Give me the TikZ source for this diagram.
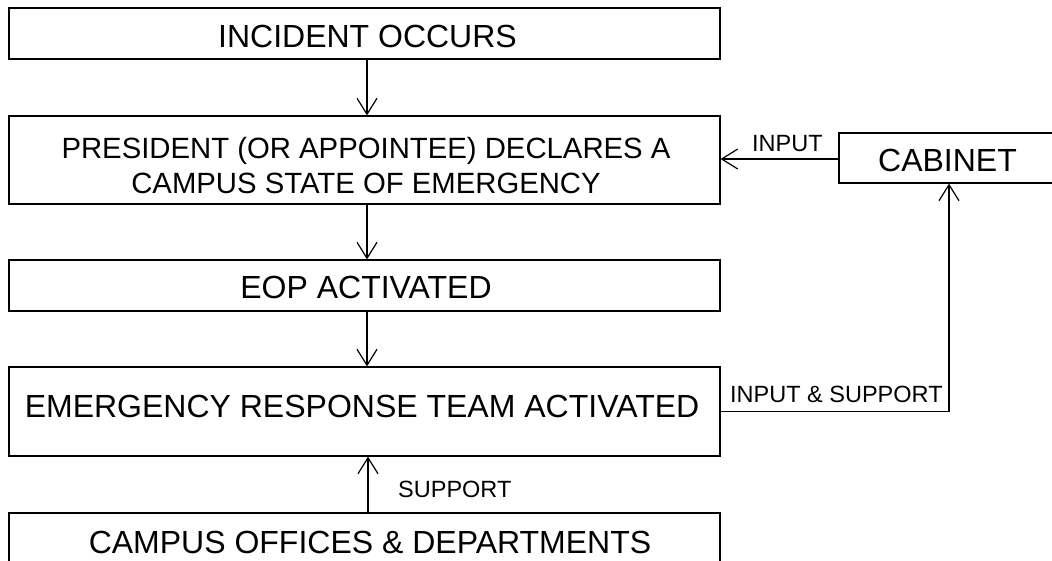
\documentclass[tikz,border=0pt]{standalone}
\usepackage{fontspec}
\setmainfont{Liberation Sans}
\usetikzlibrary{arrows.meta}
\begin{document}
\begin{tikzpicture}[x=1pt,y=-1pt,
  box/.style={draw, line width=1.2pt, rectangle, inner sep=0pt},
  big/.style={font=\fontsize{32}{38}\selectfont, inner sep=0pt, anchor=base},
  mid/.style={font=\fontsize{29.3}{35}\selectfont, inner sep=0pt, anchor=base, align=center},
  lbl/.style={font=\fontsize{23.5}{28}\selectfont, inner sep=0pt, anchor=base west},
  arr/.style={line width=1.2pt, -{Straight Barb[length=16pt,width=20pt,line width=1.2pt]}},
  conn/.style={line width=1.2pt}]
\useasboundingbox (0,0) rectangle (1052,561);
\clip (0,0) rectangle (1052,561);
% boxes
\node[box, minimum width=711pt, minimum height=51pt] (b1) at (364.5,33.5) {};
\node[box, minimum width=711pt, minimum height=88pt] (b2) at (364.5,160) {};
\node[box, minimum width=711pt, minimum height=51pt] (b3) at (364.5,285.5) {};
\node[box, minimum width=711pt, minimum height=89pt] (b4) at (364.5,411.5) {};
\node[box, minimum width=711pt, minimum height=87pt] (b5) at (364.5,556.5) {};
\node[box, minimum width=217pt, minimum height=50pt] (cab) at (947.5,158) {};
% texts
\node[big] (t1) at (367.5,48) {INCIDENT OCCURS};
\node[mid] (t2) at (366,194) {PRESIDENT (OR APPOINTEE) DECLARES A\\CAMPUS STATE OF EMERGENCY};
\node[big] (t3) at (366,299) {EOP ACTIVATED};
\node[big] (t4) at (362,417) {EMERGENCY RESPONSE TEAM ACTIVATED};
\node[big] (t5) at (370,553) {CAMPUS OFFICES \& DEPARTMENTS};
\node[big] (tc) at (947.5,172) {CABINET};
% connectors
\draw[arr] ([xshift=2.5pt]b1.south) -- ([xshift=2.5pt]b2.north);
\draw[arr] ([xshift=2.5pt]b2.south) -- ([xshift=2.5pt]b3.north);
\draw[arr] ([xshift=2.5pt]b3.south) -- ([xshift=2.5pt]b4.north);
\draw[arr] ([xshift=3.5pt]b5.north) -- ([xshift=3.5pt]b4.south);
\draw[arr] ([yshift=-1pt]cab.west) -- ([yshift=-1pt]cab.west -| b2.east);
\draw[arr] (b4.east) -| ([xshift=1.5pt]cab.south);
% labels
\node[lbl] (l1) at (752,152) {INPUT};
\node[lbl] (l2) at (730,402) {INPUT \& SUPPORT};
\node[lbl] (l3) at (398,497) {SUPPORT};
\end{tikzpicture}
\end{document}
